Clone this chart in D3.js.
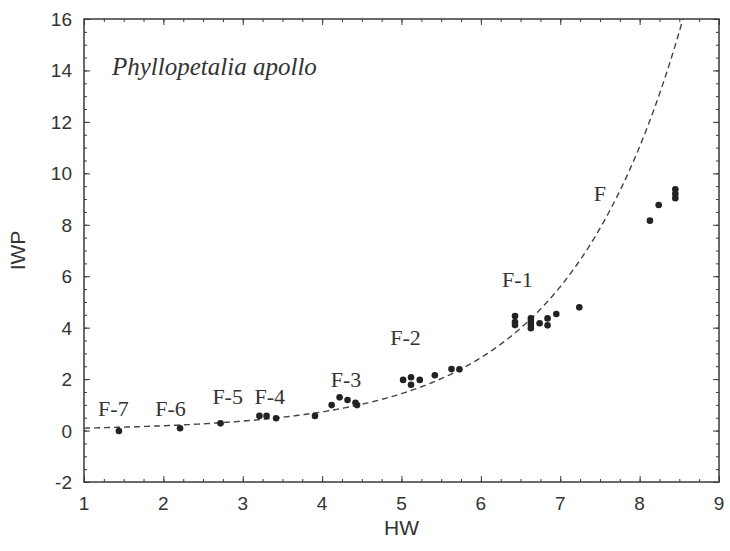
<!DOCTYPE html>
<html>
<head>
<meta charset="utf-8">
<script src="https://cdn.jsdelivr.net/npm/d3@7"></script>
<style>
  body { margin: 0; background: #fff; }
</style>
</head>
<body>
<div id="chart"></div>
<script>
// measured HW / IWP pairs
const hwValues = [1.44, 2.21, 2.72, 3.21, 3.30, 3.42, 3.91,
    4.12, 4.22, 4.32, 4.42, 4.44,
    5.02, 5.12, 5.12, 5.23, 5.42, 5.63, 5.73,
    6.43, 6.43, 6.43, 6.63, 6.63, 6.63, 6.63, 6.74, 6.84, 6.84, 6.95, 7.24,
    8.13, 8.24, 8.45, 8.45, 8.45];
const iwpValues = [-0.02, 0.09, 0.28, 0.57, 0.57, 0.48, 0.57,
    0.99, 1.29, 1.19, 1.08, 0.99,
    1.97, 2.07, 1.78, 1.97, 2.15, 2.39, 2.38,
    4.45, 4.22, 4.10, 4.36, 4.23, 4.10, 3.98, 4.17, 4.36, 4.09, 4.53, 4.79,
    8.16, 8.77, 9.38, 9.20, 9.03];

// exponential fit IWP = a * exp(b * HW)
const fitA = 0.0479;
const fitB = 0.68;

// instar labels (text, HW, IWP)
const instarNames = ['F-7', 'F-6', 'F-5', 'F-4', 'F-3', 'F-2', 'F-1', 'F'];
const instarHW = [1.37, 2.09, 2.81, 3.34, 4.30, 5.05, 6.46, 7.50];
const instarIWP = [0.83, 0.83, 1.30, 1.30, 1.97, 3.60, 5.85, 9.20];

const xTicks = [1, 2, 3, 4, 5, 6, 7, 8, 9];
const yTicks = [-2, 0, 2, 4, 6, 8, 10, 12, 14, 16];

const width = 730, height = 551;
const margin = { left: 84, right: 11, top: 19, bottom: 69 };
const iw = width - margin.left - margin.right;
const ih = height - margin.top - margin.bottom;

const svg = d3.select('#chart').append('svg')
    .attr('width', width)
    .attr('height', height);

const g = svg.append('g')
    .attr('transform', `translate(${margin.left},${margin.top})`);

const x = d3.scaleLinear().domain([1, 9]).range([0, iw]);
const y = d3.scaleLinear().domain([-2, 16]).range([ih, 0]);

const ink = '#3a3a3a';

// clip for curve
g.append('clipPath').attr('id', 'clip')
    .append('rect').attr('width', iw).attr('height', ih);

// minor ticks + major ticks, inward on all sides
function tickSet(axisFn, scale, values, size) {
    return axisFn(scale).tickValues(values).tickSize(size).tickFormat('');
}
const xMinor = d3.range(1, 9.01, 0.25);
const yMinor = d3.range(-2, 16.01, 0.5);

const tickLayers = [
    [d3.axisBottom, x, xMinor, -3, `translate(0,${ih})`],
    [d3.axisBottom, x, xTicks, -6, `translate(0,${ih})`],
    [d3.axisTop, x, xMinor, -3, 'translate(0,0)'],
    [d3.axisTop, x, xTicks, -6, 'translate(0,0)'],
    [d3.axisLeft, y, yMinor, -3, 'translate(0,0)'],
    [d3.axisLeft, y, yTicks, -6, 'translate(0,0)'],
    [d3.axisRight, y, yMinor, -3, `translate(${iw},0)`],
    [d3.axisRight, y, yTicks, -6, `translate(${iw},0)`]
];
tickLayers.forEach(t => {
    const a = g.append('g').attr('transform', t[4]).call(tickSet(t[0], t[1], t[2], t[3]));
    a.select('.domain').remove();
    a.selectAll('line').attr('stroke', ink).attr('stroke-width', 1);
});

// frame
g.append('rect')
    .attr('width', iw).attr('height', ih)
    .attr('fill', 'none')
    .attr('stroke', ink)
    .attr('stroke-width', 1.5);

// tick labels
g.selectAll('.xl').data(xTicks).enter().append('text')
    .attr('x', d => x(d))
    .attr('y', ih + 28)
    .attr('text-anchor', 'middle')
    .attr('font-family', 'Arial, Liberation Sans, sans-serif')
    .attr('font-size', 19)
    .attr('fill', '#333')
    .text(d => d);

g.selectAll('.yl').data(yTicks).enter().append('text')
    .attr('x', -12)
    .attr('y', d => y(d) + 7)
    .attr('text-anchor', 'end')
    .attr('font-family', 'Arial, Liberation Sans, sans-serif')
    .attr('font-size', 19)
    .attr('fill', '#333')
    .text(d => d);

// axis titles
svg.append('text')
    .attr('x', margin.left + x(5))
    .attr('y', 535)
    .attr('text-anchor', 'middle')
    .attr('font-family', 'Arial, Liberation Sans, sans-serif')
    .attr('font-size', 21)
    .attr('fill', '#333')
    .text('HW');

svg.append('text')
    .attr('transform', `translate(25,${margin.top + y(7)}) rotate(-90)`)
    .attr('text-anchor', 'middle')
    .attr('font-family', 'Arial, Liberation Sans, sans-serif')
    .attr('font-size', 21)
    .attr('fill', '#333')
    .text('IWP');

// fitted curve
const curveX = d3.range(1, 9.001, 0.02);
const line = d3.line()
    .x(d => x(d))
    .y(d => y(fitA * Math.exp(fitB * d)));
g.append('path')
    .datum(curveX)
    .attr('clip-path', 'url(#clip)')
    .attr('d', line)
    .attr('fill', 'none')
    .attr('stroke', '#444')
    .attr('stroke-width', 1.4)
    .attr('stroke-dasharray', '6,4');

// points
g.selectAll('.pt').data(hwValues).enter().append('circle')
    .attr('cx', d => x(d))
    .attr('cy', (d, i) => y(iwpValues[i]))
    .attr('r', 3.3)
    .attr('fill', '#222');

// instar labels
g.selectAll('.inst').data(instarNames).enter().append('text')
    .attr('x', (d, i) => x(instarHW[i]))
    .attr('y', (d, i) => y(instarIWP[i]) + 7)
    .attr('text-anchor', 'middle')
    .attr('font-family', 'Liberation Serif, Times New Roman, serif')
    .attr('font-size', 22)
    .attr('fill', '#333')
    .text(d => d);

// species name
g.append('text')
    .attr('x', 28)
    .attr('y', 56)
    .attr('font-family', 'Liberation Serif, Times New Roman, serif')
    .attr('font-style', 'italic')
    .attr('font-size', 25)
    .attr('fill', '#333')
    .text('Phyllopetalia apollo');
</script>
</body>
</html>
